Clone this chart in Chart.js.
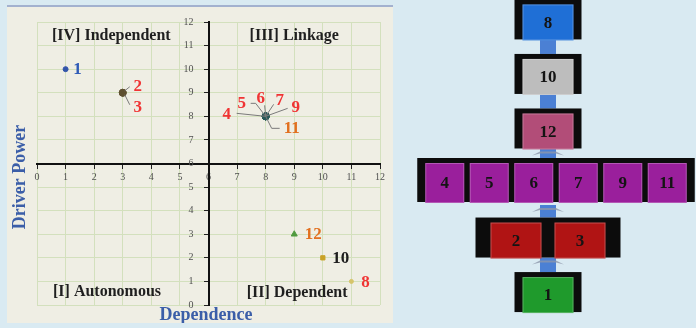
<!DOCTYPE html>
<html>
<head>
<meta charset="utf-8">
<script src="https://cdn.jsdelivr.net/npm/chart.js@4.4.0/dist/chart.umd.min.js"></script>
<style>
	html, body { margin: 0; padding: 0; width: 696px; height: 328px; overflow: hidden; background: #d9eaf2; }
	#micmac-wrap { position: absolute; left: 7px; top: 5px; width: 386px; height: 318px; background: #efeee4; border-top: 2px solid #a3b1cf; box-sizing: border-box; }
	#levels-wrap { position: absolute; left: 400px; top: 0; width: 296px; height: 328px; }
</style>
</head>
<body>
<div id="micmac-wrap"><canvas id="chart-micmac"></canvas></div>
<div id="levels-wrap"><canvas id="chart-levels"></canvas></div>
<script>
// Factors and their MICMAC coordinates
const FACTORS = ["1", "2", "3", "4", "5", "6", "7", "8", "9", "10", "11", "12"];
const DEPENDENCE = [1, 3, 3, 8, 8, 8, 8, 11, 8, 10, 8, 9];
const DRIVER_POWER = [10, 9, 9, 8, 8, 8, 8, 1, 8, 2, 8, 3];
const AXIS_TICKS = [0, 1, 2, 3, 4, 5, 6, 7, 8, 9, 10, 11, 12];
const QUADRANTS = ["[IV] Independent", "[III] Linkage", "[I] Autonomous", "[II] Dependent"];

// ISM levels, top to bottom
const LEVELS = [["8"], ["10"], ["12"], ["4", "5", "6", "7", "9", "11"], ["2", "3"], ["1"]];

const SERIF = '"Liberation Serif", "Times New Roman", serif';
const RED = "#f03434";
const ORANGE = "#e2701f";

// marker + label styling per factor
const STYLE = {
	"1": { color: "#3355aa", style: "circle", r: 2.5, text: "#2f5bb7", dx: 12, dy: 0 },
	"2": { color: "#5e5030", style: "circle", r: 3.5, text: RED, dx: 15, dy: -6, lead: [[2, -2], [7, -6]] },
	"3": { color: "#5e5030", style: "circle", r: 3.5, text: RED, dx: 15, dy: 15, lead: [[2, 2], [7, 12]] },
	"4": { color: "#285858", style: "circle", r: 3.5, text: RED, dx: -39, dy: -2, lead: [[0, 0], [-29, -3]] },
	"5": { color: "#285858", style: "circle", r: 3.5, text: RED, dx: -24, dy: -13, lead: [[0, 0], [-10, -13], [-15, -13]] },
	"6": { color: "#285858", style: "circle", r: 3.5, text: RED, dx: -5, dy: -18, lead: [[0, 0], [-1, -11]] },
	"7": { color: "#285858", style: "circle", r: 3.5, text: RED, dx: 14, dy: -16, lead: [[0, 0], [8, -12]] },
	"8": { color: "#d6c46a", style: "circle", r: 2, text: RED, dx: 14, dy: 1 },
	"9": { color: "#285858", style: "circle", r: 3.5, text: RED, dx: 30, dy: -9, lead: [[0, 0], [22, -8]] },
	"10": { color: "#c9a227", style: "rect", r: 3, text: "#1e1e1e", dx: 18, dy: 1 },
	"11": { color: "#285858", style: "circle", r: 3.5, text: ORANGE, dx: 26, dy: 12, lead: [[0, 0], [6, 12], [14, 12]] },
	"12": { color: "#4f9a3f", style: "triangle", r: 3.5, text: ORANGE, dx: 19, dy: 0 },
};
const QUADRANT_AT = [[2.6, 11.4], [9.0, 11.4], [2.45, 0.55], [9.1, 0.5]];
const LEVEL_COLORS = ["#1f6fd6", "#bdbdbd", "#b24d78", "#9a1f9c", "#b01414", "#1f9a2c"];

const micmacLabels = {
	id: "micmacLabels",
	afterDraw(chart) {
		const { ctx, scales: { x, y } } = chart;
		ctx.save();
		// quadrant names
		ctx.font = "bold 16px " + SERIF;
		ctx.fillStyle = "#1f1f1f";
		ctx.textAlign = "center";
		ctx.textBaseline = "middle";
		QUADRANTS.forEach((q, i) => {
			ctx.fillText(q, x.getPixelForValue(QUADRANT_AT[i][0]), y.getPixelForValue(QUADRANT_AT[i][1]));
		});
		// leader lines then factor numbers
		FACTORS.forEach((f, i) => {
			const s = STYLE[f];
			const px = x.getPixelForValue(DEPENDENCE[i]);
			const py = y.getPixelForValue(DRIVER_POWER[i]);
			if (s.lead) {
				ctx.strokeStyle = "#7a7a7a";
				ctx.lineWidth = 1;
				ctx.beginPath();
				s.lead.forEach((p, k) => (k ? ctx.lineTo(px + p[0], py + p[1]) : ctx.moveTo(px + p[0], py + p[1])));
				ctx.stroke();
			}
			ctx.font = "bold 17px " + SERIF;
			ctx.fillStyle = s.text;
			ctx.fillText(f, px + s.dx, py + s.dy);
		});
		// axis titles
		ctx.fillStyle = "#3b5ea8";
		ctx.font = "bold 18px " + SERIF;
		ctx.fillText("Dependence", 199, 308);
		ctx.translate(13, 170);
		ctx.rotate(-Math.PI / 2);
		ctx.fillText("Driver Power", 0, 0);
		ctx.restore();
	},
};

const axisOpts = (pos, labelPad) => ({
	type: "linear",
	min: 0,
	max: 12,
	position: pos,
	afterBuildTicks: (scale) => {
		scale.ticks = AXIS_TICKS.map((v) => ({ value: v }));
	},
	grid: { color: "#d3e0bd", lineWidth: 1, tickLength: 4, tickColor: "#222" },
	border: { color: "#111", width: 2 },
	ticks: {
		color: "#505050",
		padding: 4,
		font: { family: SERIF, size: 10 },
		callback: (v) => v + labelPad,
	},
});

new Chart(document.getElementById("chart-micmac"), {
	type: "scatter",
	data: {
		datasets: [
			{
				data: FACTORS.map((f, i) => ({ x: DEPENDENCE[i], y: DRIVER_POWER[i] })),
				pointBackgroundColor: FACTORS.map((f) => STYLE[f].color),
				pointBorderColor: FACTORS.map((f) => STYLE[f].color),
				pointStyle: FACTORS.map((f) => STYLE[f].style),
				pointRadius: FACTORS.map((f) => STYLE[f].r),
			},
		],
	},
	options: {
		responsive: true,
		maintainAspectRatio: false,
		animation: false,
		layout: { padding: { left: 30, right: 13, top: 15, bottom: 18 } },
		scales: {
			x: axisOpts({ y: 6 }, ""),
			// centred y labels get no padding from Chart.js, so pad the text
			y: axisOpts({ x: 6 }, "\u2002\u2002\u2002"),
		},
		plugins: { legend: { display: false }, tooltip: { enabled: false } },
	},
	plugins: [micmacLabels],
});

// ISM level diagram drawn on hidden linear scales
const levelBoxes = {
	id: "levelBoxes",
	afterDraw(chart) {
		const { ctx, scales: { x, y } } = chart;
		const halfOf = (i) => (LEVELS[i].length > 2 ? 22 : 20);
		ctx.save();
		// connectors
		for (let i = 0; i < LEVELS.length - 1; i++) {
			const top = y.getPixelForValue(i) + halfOf(i);
			const bot = y.getPixelForValue(i + 1) - halfOf(i + 1);
			const cx = x.getPixelForValue(0);
			ctx.fillStyle = "#4b80d4";
			ctx.fillRect(cx - 8, top, 16, bot - top);
			if (i >= 2) {
				ctx.fillStyle = "rgba(140,150,170,0.8)";
				ctx.beginPath();
				ctx.moveTo(cx - 16, top + 7);
				ctx.lineTo(cx - 8, top + 3);
				ctx.lineTo(cx + 8, top + 3);
				ctx.lineTo(cx + 16, top + 7);
				ctx.lineTo(cx + 8, top + 5);
				ctx.lineTo(cx - 8, top + 5);
				ctx.closePath();
				ctx.fill();
			}
		}
		LEVELS.forEach((row, i) => {
			const n = row.length;
			const half = halfOf(i);
			const pitch = n > 2 ? 44.5 : 64;
			const cellW = n > 2 ? 39 : 51;
			const shift = n > 2 ? 8 : 0;
			const pad = n === 2 ? 15 : 8;
			const cy = y.getPixelForValue(i) - (n > 2 ? 3 : 0);
			const c0 = shift - ((n - 1) / 2) * pitch;
			const left = x.getPixelForValue(c0 - cellW / 2 - pad);
			const right = x.getPixelForValue(c0 + (n - 1) * pitch + cellW / 2 + pad);
			ctx.fillStyle = "#0c0c0c";
			ctx.fillRect(left, cy - half, right - left, half * 2);
			row.forEach((lab, j) => {
				const cx = x.getPixelForValue(c0 + j * pitch);
				const l = cx - cellW / 2;
				const t = cy - half + 5;
				const h = half * 2 - 4;
				ctx.fillStyle = LEVEL_COLORS[i];
				ctx.fillRect(l, t, cellW, h);
				ctx.strokeStyle = "rgba(255,255,255,0.25)";
				ctx.lineWidth = 1;
				ctx.strokeRect(l + 0.5, t + 0.5, cellW - 1, h - 1);
				ctx.fillStyle = "#141414";
				ctx.font = "bold 17px " + SERIF;
				ctx.textAlign = "center";
				ctx.textBaseline = "middle";
				ctx.fillText(lab, cx, t + h / 2 + 1);
			});
		});
		ctx.restore();
	},
};

new Chart(document.getElementById("chart-levels"), {
	type: "scatter",
	data: { datasets: [{ data: [] }] },
	options: {
		responsive: true,
		maintainAspectRatio: false,
		animation: false,
		layout: { padding: 0 },
		scales: {
			x: { type: "linear", min: -148, max: 148, display: false },
			y: { type: "linear", min: -0.356, max: 5.659, reverse: true, display: false },
		},
		plugins: { legend: { display: false }, tooltip: { enabled: false } },
	},
	plugins: [levelBoxes],
});
</script>
</body>
</html>
